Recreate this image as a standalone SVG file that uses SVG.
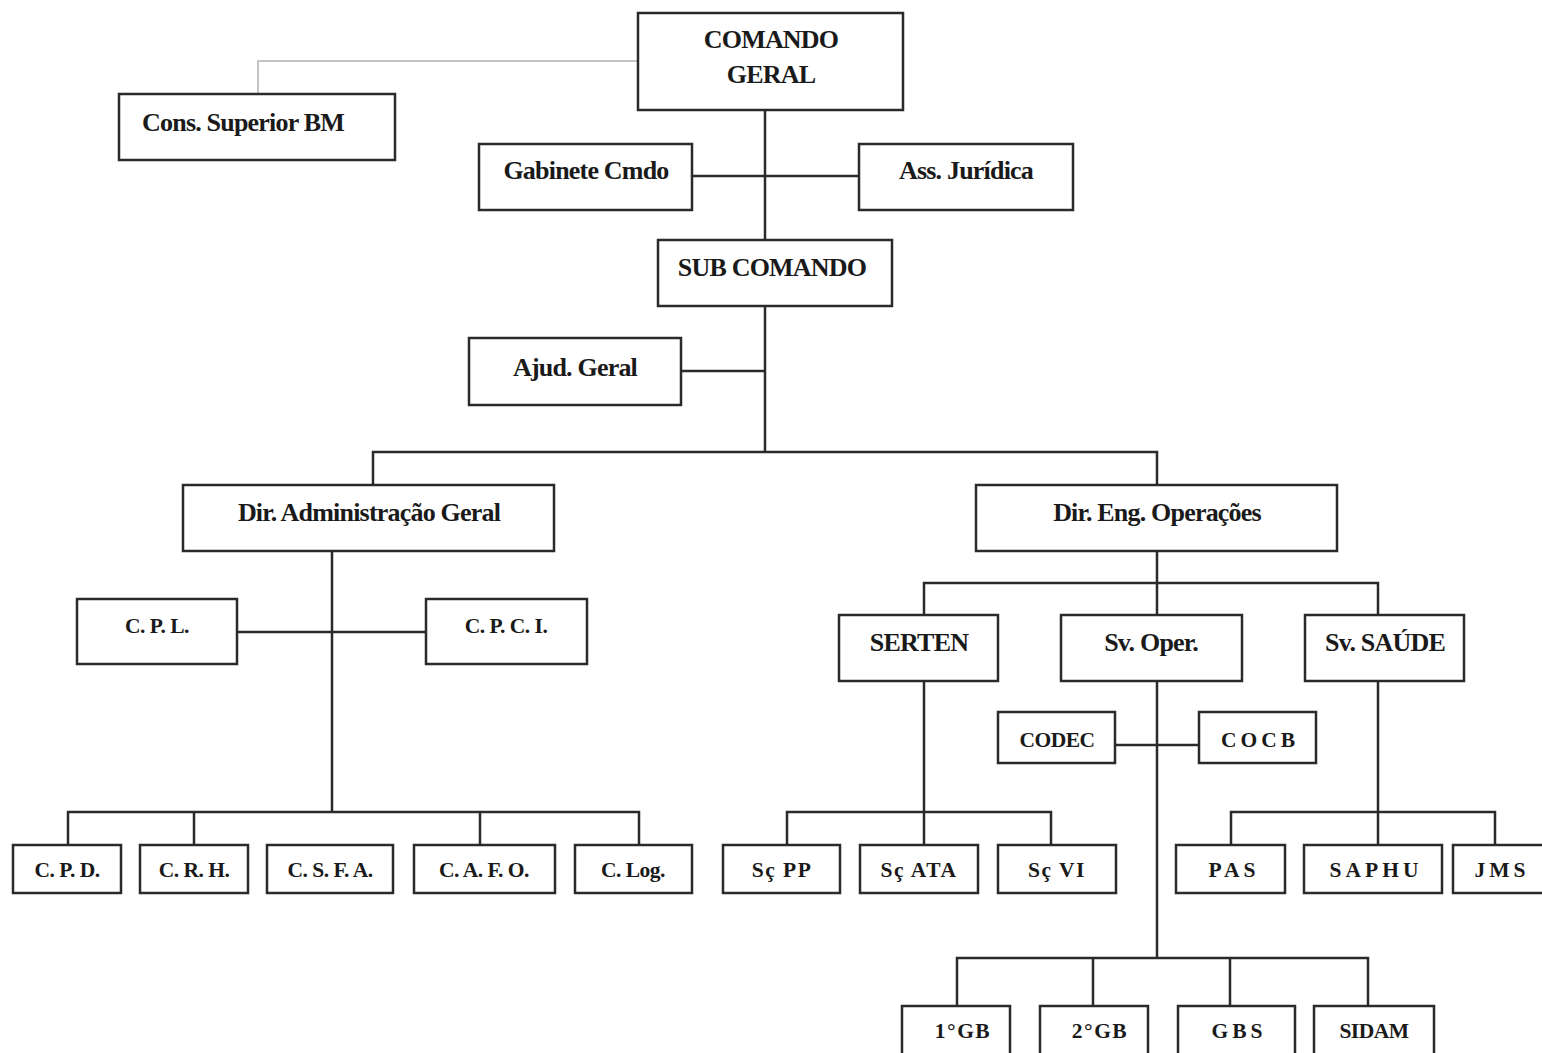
<svg xmlns="http://www.w3.org/2000/svg" width="1542" height="1053" viewBox="0 0 1542 1053">
<style>
.b{fill:#fff;stroke:#2a2a2a;stroke-width:2.5}
.t{font-family:"Liberation Serif","Times New Roman",serif;font-weight:bold;font-size:26px;fill:#1a1a1a;text-anchor:middle;letter-spacing:-0.8px}
.s{font-family:"Liberation Serif","Times New Roman",serif;font-weight:bold;font-size:21.5px;fill:#1a1a1a;text-anchor:middle;letter-spacing:-0.5px}
.w{letter-spacing:1.5px}
.x{letter-spacing:4px}
.c{fill:none;stroke:#2a2a2a;stroke-width:2.5}
.g{fill:none;stroke:#c4c4c4;stroke-width:2}
</style>
<rect width="1542" height="1053" fill="#fff"/>
<g id="connectors">
<path class="g" d="M638 61H258V94"/>
<path class="c" d="M765 110V240M692 176H859M765 306V452M681 371H765M373 485V452H1157V485"/>
<path class="c" d="M332 551V812M237 632H426M68 845V812H639V845M194 812V845M480 812V845"/>
<path class="c" d="M1157 551V583M924 615V583H1378V615M1157 583V615"/>
<path class="c" d="M924 681V812M787 845V812H1051V845M924 812V845"/>
<path class="c" d="M1157 681V958M1115 745H1199M957 1006V958H1368V1006M1093 958V1006M1230 958V1006"/>
<path class="c" d="M1378 681V812M1231 845V812H1495V845M1378 812V845"/>
</g>
<g id="comando-geral"><rect class="b" x="638" y="13" width="265" height="97"/><text class="t" x="771" y="48">COMANDO</text><text class="t" x="771" y="83">GERAL</text></g>
<g id="cons-superior"><rect class="b" x="119" y="94" width="276" height="66"/><text class="t" x="243" y="131">Cons. Superior BM</text></g>
<g id="gabinete"><rect class="b" x="479" y="144" width="213" height="66"/><text class="t" x="586" y="179">Gabinete Cmdo</text></g>
<g id="ass-juridica"><rect class="b" x="859" y="144" width="214" height="66"/><text class="t" x="966" y="179">Ass. Jurídica</text></g>
<g id="sub-comando"><rect class="b" x="658" y="240" width="234" height="66"/><text class="t" x="772" y="276">SUB COMANDO</text></g>
<g id="ajud-geral"><rect class="b" x="469" y="338" width="212" height="67"/><text class="t" x="575" y="376">Ajud.  Geral</text></g>
<g id="dir-admin"><rect class="b" x="183" y="485" width="371" height="66"/><text class="t" x="369" y="521">Dir. Administração Geral</text></g>
<g id="dir-eng"><rect class="b" x="976" y="485" width="361" height="66"/><text class="t" x="1157" y="521">Dir. Eng. Operações</text></g>
<g id="cpl"><rect class="b" x="77" y="599" width="160" height="65"/><text class="s" x="157" y="633">C. P. L.</text></g>
<g id="cpci"><rect class="b" x="426" y="599" width="161" height="65"/><text class="s" x="506" y="633">C. P. C. I.</text></g>
<g id="cpd"><rect class="b" x="13" y="845" width="108" height="48"/><text class="s" x="67" y="877">C. P. D.</text></g>
<g id="crh"><rect class="b" x="140" y="845" width="108" height="48"/><text class="s" x="194" y="877">C. R. H.</text></g>
<g id="csfa"><rect class="b" x="267" y="845" width="126" height="48"/><text class="s" x="330" y="877">C. S. F. A.</text></g>
<g id="cafo"><rect class="b" x="414" y="845" width="141" height="48"/><text class="s" x="484" y="877">C. A. F. O.</text></g>
<g id="clog"><rect class="b" x="575" y="845" width="117" height="48"/><text class="s" x="633" y="877">C. Log.</text></g>
<g id="serten"><rect class="b" x="839" y="615" width="159" height="66"/><text class="t" x="919" y="651">SERTEN</text></g>
<g id="sv-oper"><rect class="b" x="1061" y="615" width="181" height="66"/><text class="t" x="1151" y="651">Sv. Oper.</text></g>
<g id="sv-saude"><rect class="b" x="1305" y="615" width="159" height="66"/><text class="t" x="1385" y="651">Sv. SAÚDE</text></g>
<g id="codec"><rect class="b" x="998" y="712" width="117" height="51"/><text class="s" x="1057" y="747">CODEC</text></g>
<g id="cocb"><rect class="b" x="1199" y="712" width="117" height="51"/><text class="s x" x="1260" y="747">COCB</text></g>
<g id="scpp"><rect class="b" x="723" y="845" width="117" height="48"/><text class="s w" x="782" y="877">Sç PP</text></g>
<g id="scata"><rect class="b" x="860" y="845" width="118" height="48"/><text class="s w" x="919" y="877">Sç ATA</text></g>
<g id="scvi"><rect class="b" x="998" y="845" width="118" height="48"/><text class="s w" x="1057" y="877">Sç VI</text></g>
<g id="pas"><rect class="b" x="1176" y="845" width="109" height="48"/><text class="s x" x="1234" y="877">PAS</text></g>
<g id="saphu"><rect class="b" x="1304" y="845" width="138" height="48"/><text class="s x" x="1376" y="877">SAPHU</text></g>
<g id="jms"><rect class="b" x="1453" y="845" width="95" height="48"/><text class="s x" x="1502" y="877">JMS</text></g>
<g id="gb1"><rect class="b" x="902" y="1006" width="108" height="55"/><text class="s w" x="963" y="1038">1°GB</text></g>
<g id="gb2"><rect class="b" x="1040" y="1006" width="108" height="55"/><text class="s w" x="1100" y="1038">2°GB</text></g>
<g id="gbs"><rect class="b" x="1178" y="1006" width="117" height="55"/><text class="s x" x="1239" y="1038">GBS</text></g>
<g id="sidam"><rect class="b" x="1314" y="1006" width="120" height="55"/><text class="s" x="1374" y="1038">SIDAM</text></g>
</svg>
